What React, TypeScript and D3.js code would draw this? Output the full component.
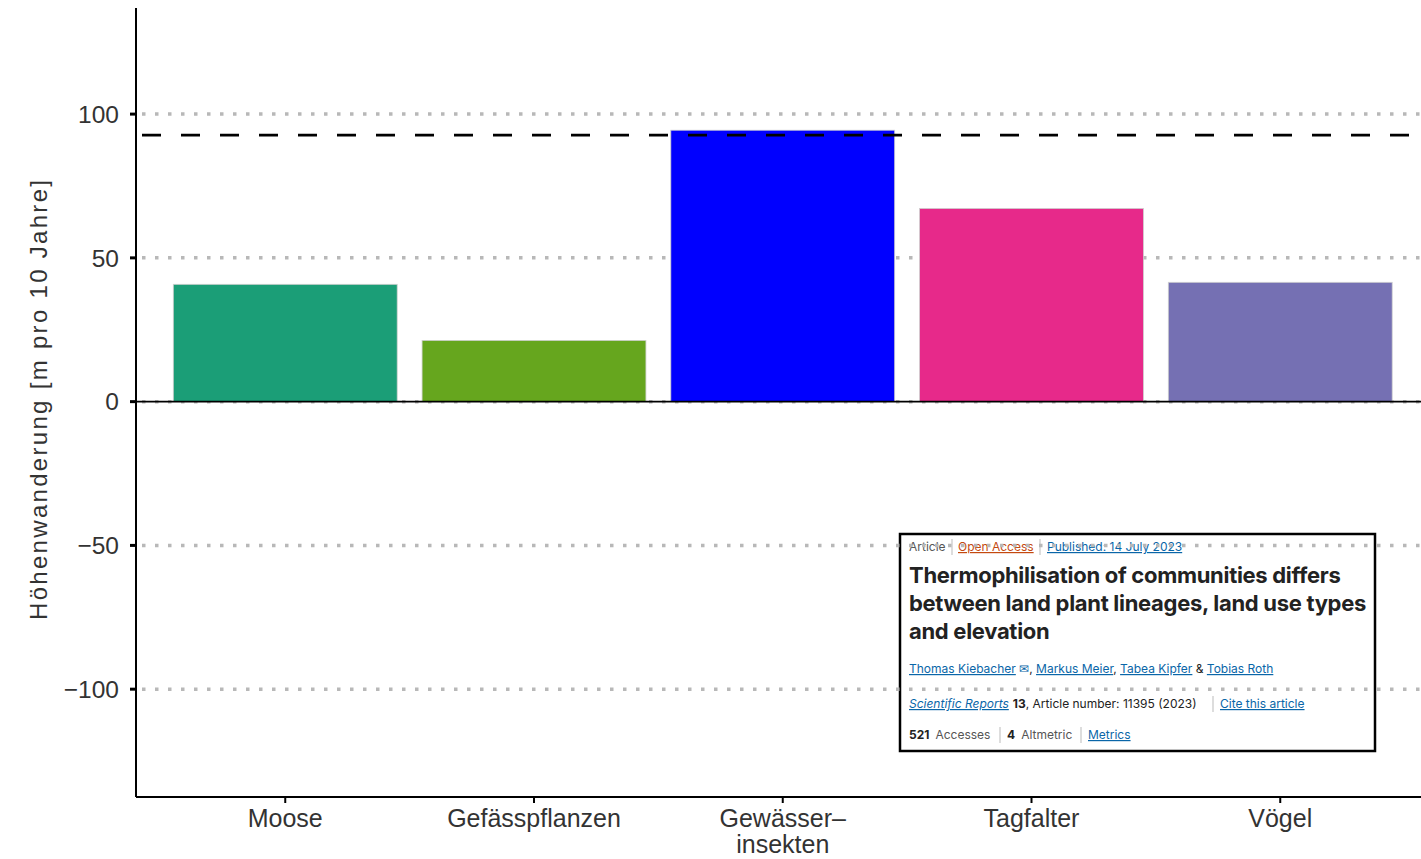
import React from "react";
import * as d3 from "d3";

const categories = ["Moose", "Gefässpflanzen", "Gewässer–\ninsekten", "Tagfalter", "Vögel"];
const values = [40.8, 21.3, 94.4, 67.2, 41.5];
const colors = ["#1b9e77", "#66a61e", "#0000ff", "#e7298a", "#7570b3"];
const yTicks = [-100, -50, 0, 50, 100];
const meanValue = 92.7;

const W = 1421;
const H = 859;
const left = 136;
const top = 8;
const bottom = 797;

export default function App() {
  const y = d3.scaleLinear().domain([-137.5, 136.9]).range([bottom, top]);
  const x = d3
    .scaleBand<string>()
    .domain(categories)
    .range([left, 1429.5])
    .paddingInner(0.1)
    .paddingOuter(0.15);
  const bw = x.bandwidth();
  const font = "'Liberation Sans', Arial, sans-serif";
  const inter = "Inter, 'Noto Sans', sans-serif";
  const blue = "#0a66a8";

  return (
    <svg
      width={W}
      height={H}
      style={{ position: "absolute", left: 0, top: 0, background: "#fff" }}
      fontFamily={font}
    >
      {/* inset article box */}
      <g>
        <rect x={900} y={534} width={475} height={217} fill="#fff" stroke="#000" strokeWidth={2.5} />
        <g fontFamily={inter} fontSize={12}>
          <text x={909} y={551} fill="#555">Article</text>
          <line x1={952} x2={952} y1={539} y2={555} stroke="#bbb" />
          <text x={958} y={551} fill="#c4490f" textDecoration="underline">Open Access</text>
          <line x1={1040} x2={1040} y1={539} y2={555} stroke="#bbb" />
          <text x={1047} y={551} fill={blue} textDecoration="underline">Published: 14 July 2023</text>
        </g>
        <g fontFamily={inter} fontSize={22} fontWeight={700} fill="#222" letterSpacing={-0.3}>
          <text x={909} y={583}>Thermophilisation of communities differs</text>
          <text x={909} y={611}>between land plant lineages, land use types</text>
          <text x={909} y={639}>and elevation</text>
        </g>
        <g fontFamily={inter} fontSize={12}>
          <text x={909} y={673} fill="#222">
            <tspan fill={blue} textDecoration="underline">Thomas Kiebacher</tspan>
            <tspan fill={blue}> ✉</tspan>
            <tspan>, </tspan>
            <tspan fill={blue} textDecoration="underline">Markus Meier</tspan>
            <tspan>, </tspan>
            <tspan fill={blue} textDecoration="underline">Tabea Kipfer</tspan>
            <tspan> &amp; </tspan>
            <tspan fill={blue} textDecoration="underline">Tobias Roth</tspan>
          </text>
          <text x={909} y={708} fill="#222">
            <tspan fill={blue} fontStyle="italic" textDecoration="underline">Scientific Reports</tspan>
            <tspan fontWeight={700} dx={4}>13</tspan>
            <tspan>, Article number: 11395 (2023)</tspan>
          </text>
          <line x1={1213} x2={1213} y1={696} y2={712} stroke="#bbb" />
          <text x={1220} y={708} fill={blue} textDecoration="underline">Cite this article</text>
          <text x={909} y={739} fill="#222">
            <tspan fontWeight={700}>521</tspan>
            <tspan fill="#555" dx={6}>Accesses</tspan>
          </text>
          <line x1={1000} x2={1000} y1={727} y2={743} stroke="#bbb" />
          <text x={1007} y={739} fill="#222">
            <tspan fontWeight={700}>4</tspan>
            <tspan fill="#555" dx={6}>Altmetric</tspan>
          </text>
          <line x1={1081} x2={1081} y1={727} y2={743} stroke="#bbb" />
          <text x={1088} y={739} fill={blue} textDecoration="underline">Metrics</text>
        </g>
      </g>

      {/* dotted grid */}
      {yTicks.map((t) => (
        <line
          key={t}
          x1={left}
          x2={W}
          y1={y(t)}
          y2={y(t)}
          stroke="#b8b8b8"
          strokeWidth={3.5}
          strokeDasharray="3.5 9.5"
          strokeDashoffset={-6}
        />
      ))}

      {/* bars */}
      {categories.map((c, i) => (
        <rect
          key={c}
          x={x(c)!}
          y={y(values[i])}
          width={bw}
          height={y(0) - y(values[i])}
          fill={colors[i]}
          stroke="#cfcfcf"
          strokeWidth={0.8}
        />
      ))}

      {/* zero line */}
      <line x1={left} x2={W} y1={y(0)} y2={y(0)} stroke="#000" strokeWidth={1.6} />

      {/* mean dashed line */}
      <line
        x1={left}
        x2={W}
        y1={y(meanValue)}
        y2={y(meanValue)}
        stroke="#000"
        strokeWidth={2.8}
        strokeDasharray="19 20"
        strokeDashoffset={-6}
      />

      {/* axes */}
      <line x1={left} x2={left} y1={top} y2={bottom} stroke="#000" strokeWidth={2} />
      <line x1={left} x2={W} y1={bottom} y2={bottom} stroke="#000" strokeWidth={2} />

      {/* y ticks */}
      {yTicks.map((t) => (
        <g key={t}>
          <line x1={left - 6} x2={left} y1={y(t)} y2={y(t)} stroke="#000" strokeWidth={3} />
          <text
            x={left - 17}
            y={y(t)}
            dy="0.36em"
            textAnchor="end"
            fontSize={24.5}
            fill="#333"
          >
            {t < 0 ? "\u2212" + Math.abs(t) : String(t)}
          </text>
        </g>
      ))}

      {/* x ticks */}
      {categories.map((c) => {
        const cx = x(c)! + bw / 2;
        const lines = c.split("\n");
        return (
          <g key={c}>
            <line x1={cx} x2={cx} y1={bottom} y2={bottom + 6} stroke="#000" strokeWidth={2} />
            {lines.map((ln, j) => (
              <text
                key={j}
                x={cx}
                y={827 + j * 26}
                textAnchor="middle"
                fontSize={25}
                fill="#333"
              >
                {ln}
              </text>
            ))}
          </g>
        );
      })}

      {/* y title */}
      <text
        transform={`translate(47, ${400}) rotate(-90)`}
        textAnchor="middle"
        fontSize={24}
        fill="#333"
        textLength={440}
        lengthAdjust="spacing"
      >
        Höhenwanderung [m pro 10 Jahre]
      </text>
    </svg>
  );
}
